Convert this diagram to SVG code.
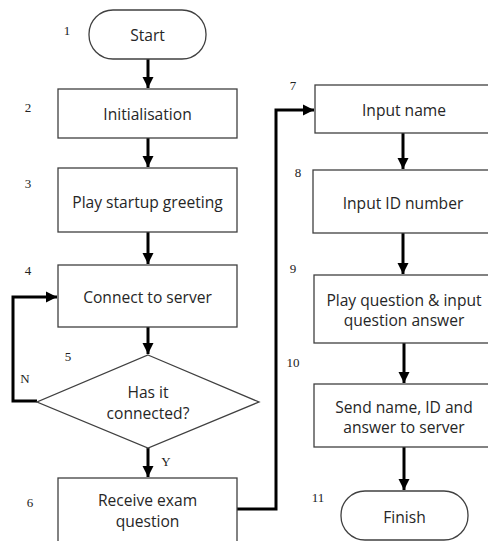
<svg xmlns="http://www.w3.org/2000/svg" width="488" height="541" viewBox="0 0 488 541">
<style>
.box{fill:#fff;stroke:#404040;stroke-width:1.3}
.t{font-family:"Open Sans","Liberation Sans",sans-serif;font-size:15.6px;fill:#262626;text-anchor:middle;dominant-baseline:central}
.n{font-family:"Liberation Serif",serif;font-size:13px;fill:#222;text-anchor:middle;dominant-baseline:central}
.c{fill:none;stroke:#000;stroke-width:3}
</style>
<defs>
<marker id="ah" markerUnits="userSpaceOnUse" markerWidth="12" markerHeight="12" viewBox="0 0 12 12" refX="11" refY="6" orient="auto">
<path d="M0,0.5 L11,6 L0,11.5 Z" fill="#000"/>
</marker>
</defs>
<rect width="488" height="541" fill="#fff"/>
<g id="connectors">
<path class="c" d="M148,59 V88" marker-end="url(#ah)"/>
<path class="c" d="M148,138 V167" marker-end="url(#ah)"/>
<path class="c" d="M148,232 V264" marker-end="url(#ah)"/>
<path class="c" d="M148,327 V354" marker-end="url(#ah)"/>
<path class="c" d="M148,448 V477" marker-end="url(#ah)"/>
<path class="c" d="M37,401 H13 V297 H57" marker-end="url(#ah)"/>
<path class="c" d="M237,509 H276 V110 H314" marker-end="url(#ah)"/>
<path class="c" d="M403,133 V169" marker-end="url(#ah)"/>
<path class="c" d="M403,233 V274" marker-end="url(#ah)"/>
<path class="c" d="M404,343 V383" marker-end="url(#ah)"/>
<path class="c" d="M404,447 V490" marker-end="url(#ah)"/>
<text class="n" x="25" y="378">N</text>
<text class="n" x="166" y="461">Y</text>
</g>
<g id="n1"><rect class="box" x="89" y="10" width="117" height="49" rx="24"/><text class="t" x="147.5" y="35">Start</text><text class="n" x="67" y="30">1</text></g>
<g id="n2"><rect class="box" x="58" y="89" width="179" height="49"/><text class="t" x="147.5" y="114">Initialisation</text><text class="n" x="28" y="107">2</text></g>
<g id="n3"><rect class="box" x="58" y="168" width="179" height="64"/><text class="t" x="147.5" y="202">Play startup greeting</text><text class="n" x="28" y="183">3</text></g>
<g id="n4"><rect class="box" x="58" y="265" width="179" height="62"/><text class="t" x="147.5" y="297">Connect to server</text><text class="n" x="28" y="270">4</text></g>
<g id="n5"><polygon class="box" points="148,355 259,402 148,448 37,402"/><text class="t" x="148" y="392">Has it</text><text class="t" x="148" y="413">connected?</text><text class="n" x="68" y="356">5</text></g>
<g id="n6"><rect class="box" x="58" y="478" width="179" height="70"/><text class="t" x="147.5" y="500">Receive exam</text><text class="t" x="147.5" y="521">question</text><text class="n" x="30" y="502">6</text></g>
<g id="n7"><rect class="box" x="315" y="85" width="178" height="48"/><text class="t" x="404" y="110">Input name</text><text class="n" x="293" y="85">7</text></g>
<g id="n8"><rect class="box" x="313" y="170" width="180" height="63"/><text class="t" x="403" y="203">Input ID number</text><text class="n" x="298" y="172">8</text></g>
<g id="n9"><rect class="box" x="314" y="275" width="179" height="68"/><text class="t" x="404" y="300">Play question &amp; input</text><text class="t" x="404" y="320">question answer</text><text class="n" x="293" y="268">9</text></g>
<g id="n10"><rect class="box" x="314" y="384" width="179" height="63"/><text class="t" x="404" y="407">Send name, ID and</text><text class="t" x="404" y="427">answer to server</text><text class="n" x="293" y="362">10</text></g>
<g id="n11"><rect class="box" x="341" y="491" width="127" height="49" rx="24"/><text class="t" x="404.5" y="517">Finish</text><text class="n" x="318" y="497">11</text></g>
</svg>
